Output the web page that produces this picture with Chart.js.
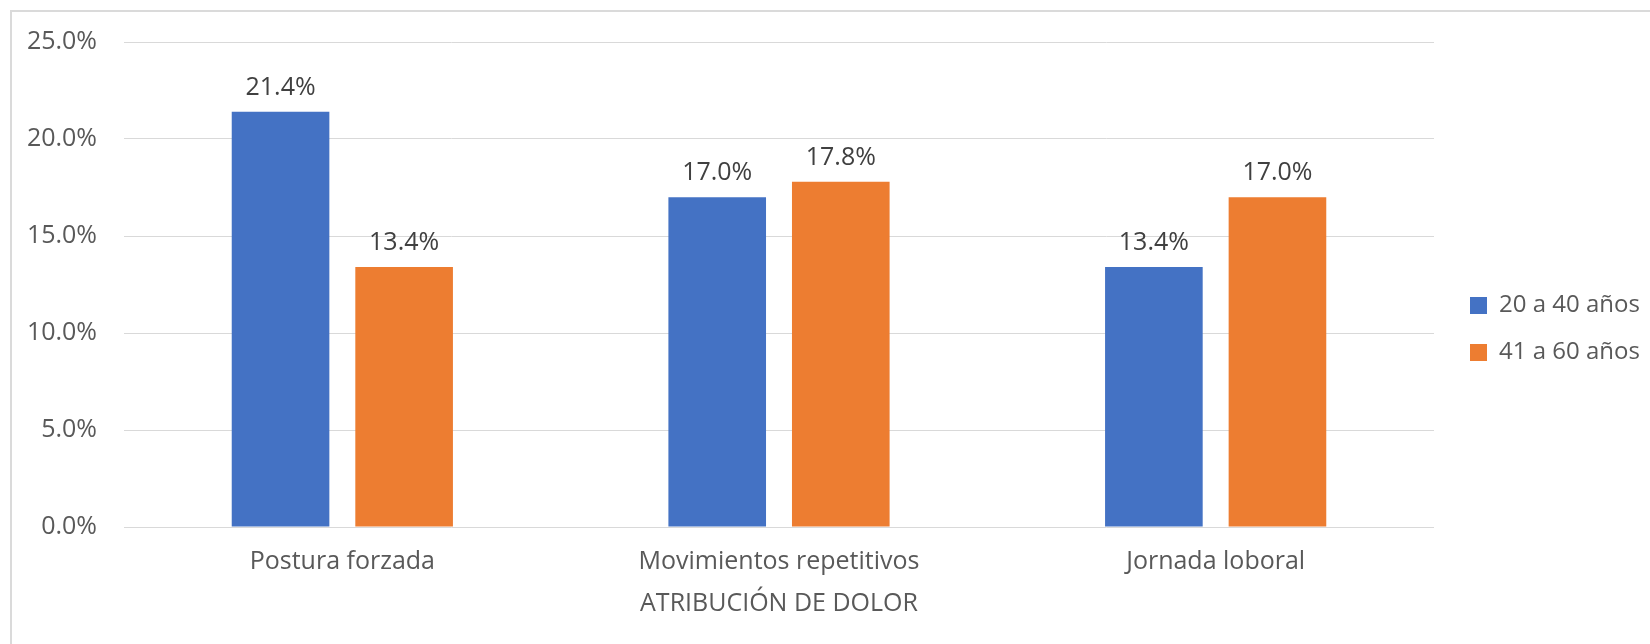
<!DOCTYPE html>
<html>
<head>
<meta charset="utf-8">
<script src="https://cdn.jsdelivr.net/npm/chart.js@4/dist/chart.umd.min.js"></script>
<style>
  html, body { margin: 0; padding: 0; background: #ffffff; }
  #wrap { width: 1650px; height: 644px; position: relative; }
</style>
</head>
<body>
<div id="wrap"><canvas id="chart"></canvas></div>
<script>
// Atribución de dolor por grupo de edad (%)
const categories = ['Postura forzada', 'Movimientos repetitivos', 'Jornada loboral'];
const seriesNames = ['20 a 40 años', '41 a 60 años'];
const young = [21.4, 17.0, 13.4];
const older = [13.4, 17.8, 17.0];
const yTicks = [0, 5, 10, 15, 20, 25];
const axisTitle = 'ATRIBUCIÓN DE DOLOR';

const FONT = '"Open Sans", Lato, sans-serif';
const TEXT = '#595959';
const GRID = '#d9d9d9';
const SIZE = 25;

// white background plus the light frame on the left and top edges
const framePlugin = {
  id: 'frame',
  beforeDraw(chart) {
    const ctx = chart.ctx;
    ctx.save();
    ctx.fillStyle = '#ffffff';
    ctx.fillRect(0, 0, chart.width, chart.height);
    ctx.strokeStyle = '#dadada';
    ctx.lineWidth = 2;
    ctx.beginPath();
    ctx.moveTo(11, chart.height);
    ctx.lineTo(11, 11);
    ctx.lineTo(chart.width, 11);
    ctx.stroke();
    ctx.restore();
  }
};

// value labels above each bar
const valueLabels = {
  id: 'valueLabels',
  afterDatasetsDraw(chart) {
    const ctx = chart.ctx;
    ctx.save();
    ctx.font = SIZE + 'px ' + FONT;
    ctx.fillStyle = '#404040';
    ctx.textAlign = 'center';
    ctx.textBaseline = 'alphabetic';
    chart.data.datasets.forEach((ds, di) => {
      chart.getDatasetMeta(di).data.forEach((bar, i) => {
        ctx.fillText(ds.data[i].toFixed(1) + '%', bar.x, bar.y - 17);
      });
    });
    ctx.restore();
  }
};

// move the legend column a little away from the plot area
const legendShift = {
  id: 'legendShift',
  afterLayout(chart) {
    const lg = chart.legend;
    if (lg) { lg.left += 13; lg.right += 13; }
  }
};

new Chart(document.getElementById('chart'), {
  type: 'bar',
  data: {
    labels: categories,
    datasets: [
      { label: seriesNames[0], data: young, backgroundColor: '#4472C4' },
      { label: seriesNames[1], data: older, backgroundColor: '#ED7D31' }
    ]
  },
  options: {
    responsive: true,
    maintainAspectRatio: false,
    animation: false,
    categoryPercentage: 0.566,
    barPercentage: 0.79,
    layout: { padding: { top: 39, bottom: 25, left: 0, right: 0 } },
    plugins: {
      tooltip: { enabled: false },
      legend: {
        position: 'right',
        align: 'center',
        maxWidth: 200,
        labels: {
          boxWidth: 17,
          boxHeight: 17,
          padding: 23,
          color: TEXT,
          font: { family: FONT, size: 24 }
        }
      }
    },
    scales: {
      x: {
        grid: { display: false, drawTicks: false },
        border: { display: false },
        ticks: { color: TEXT, padding: 20, font: { family: FONT, size: SIZE } },
        title: {
          display: true,
          text: axisTitle,
          color: TEXT,
          padding: 0,
          font: { family: FONT, size: SIZE }
        },
        afterFit(scale) {
          scale.height = 92;
          scale.paddingLeft = 0;
          scale.paddingRight = 216;
        }
      },
      y: {
        min: yTicks[0],
        max: yTicks[yTicks.length - 1],
        afterBuildTicks(scale) {
          scale.ticks = yTicks.map(v => ({ value: v }));
        },
        grid: { color: GRID, lineWidth: 1, drawTicks: false },
        border: { display: false },
        ticks: {
          color: TEXT,
          padding: 27,
          font: { family: FONT, size: SIZE },
          callback: v => Number(v).toFixed(1) + '%'
        },
        afterFit(scale) {
          scale.width = 124;
        }
      }
    }
  },
  plugins: [framePlugin, valueLabels, legendShift]
});
</script>
</body>
</html>
